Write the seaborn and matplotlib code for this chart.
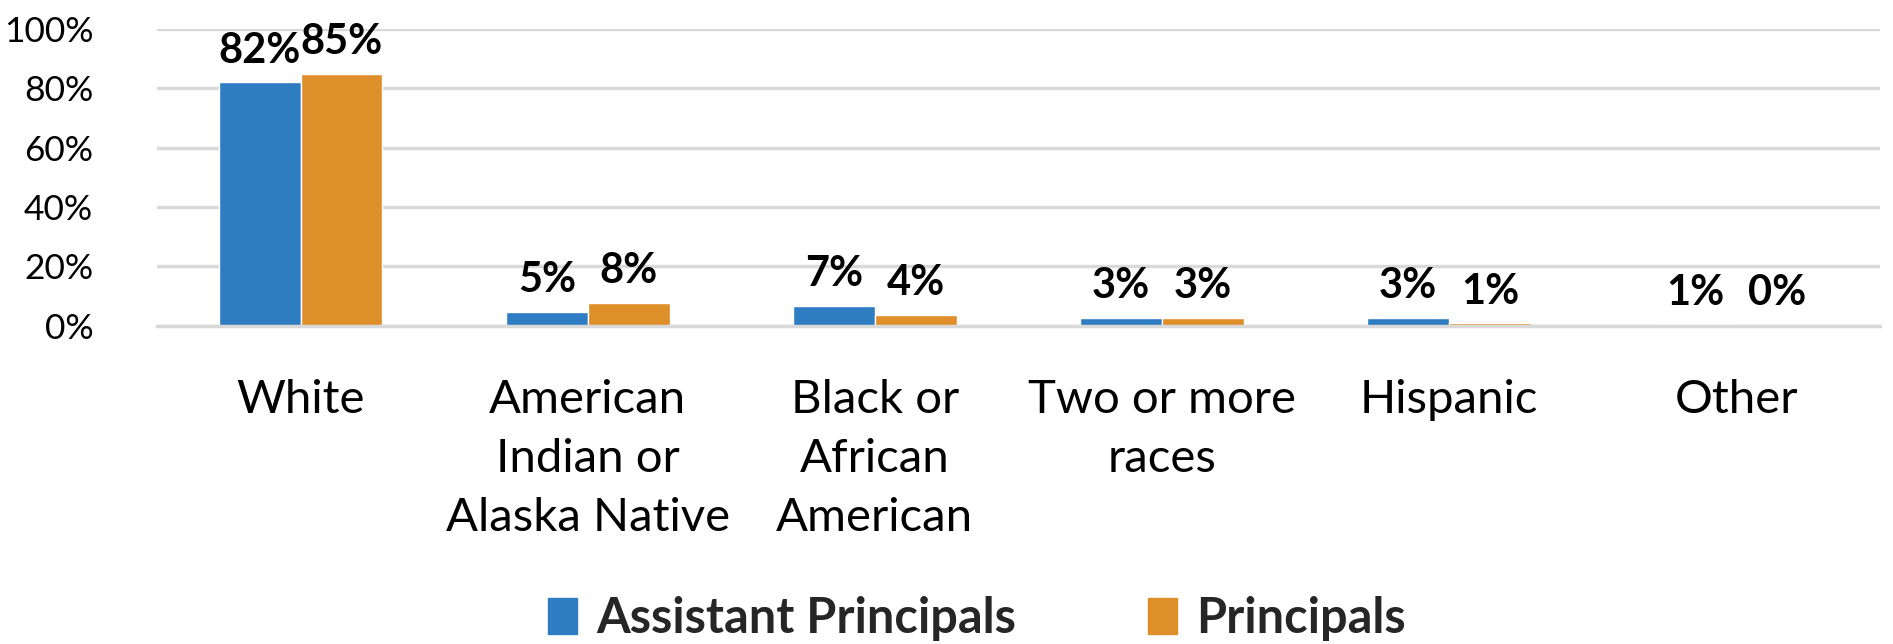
import matplotlib
matplotlib.use("Agg")
from matplotlib import pyplot as plt
import matplotlib.ticker as mticker
import pandas as pd
import seaborn as sns

categories = ["White", "American\nIndian or\nAlaska Native", "Black or\nAfrican\nAmerican",
              "Two or more\nraces", "Hispanic", "Other"]
series = ["Assistant Principals", "Principals"]
assistant_vals = [0.82, 0.047, 0.068, 0.028, 0.027, 0.006]
principal_vals = [0.85, 0.078, 0.038, 0.027, 0.008, 0.003]
colors = ["#2E7CC1", "#DF8F2A"]
y_ticks = [0, 0.2, 0.4, 0.6, 0.8, 1.0]

df = pd.DataFrame({
    "category": categories * 2,
    "group": [series[0]] * len(categories) + [series[1]] * len(categories),
    "value": assistant_vals + principal_vals,
})

sns.set_theme(style="white")
plt.rcParams['font.family'] = ['Lato', 'DejaVu Sans']

fig = plt.figure(figsize=(18.93, 6.44), dpi=100)
ax = fig.add_axes([0.083, 0.494, 0.91, 0.461])

sns.barplot(data=df, x="category", y="value", hue="group", hue_order=series,
            palette=colors, width=0.57, gap=0, saturation=1, ax=ax, legend=False)

# data labels
for cont, vals in zip(ax.containers, [assistant_vals, principal_vals]):
    ax.bar_label(cont, labels=[f"{v:.0%}" for v in vals], padding=9,
                 fontsize=30, fontweight="bold", color="black")

ax.set_ylim(0, 1.0)
ax.set_xlim(-0.5, len(categories) - 0.5)
ax.set_yticks(y_ticks)
ax.yaxis.set_major_formatter(mticker.PercentFormatter(1.0, decimals=0))
ax.grid(axis="y", color="#d9d9d9", linewidth=2.5)
ax.set_axisbelow(True)
for s in ["left", "right", "top"]:
    ax.spines[s].set_visible(False)
ax.spines["bottom"].set_color("#d9d9d9")
ax.spines["bottom"].set_linewidth(2.5)

ax.tick_params(axis="y", length=0, pad=46, labelsize=25.5, labelcolor="black")
ax.tick_params(axis="x", which="major", length=0, pad=38, labelsize=34, labelcolor="black")
ax.set_xticks([i - 0.5 for i in range(len(categories) + 1)], minor=True)
ax.tick_params(axis="x", which="minor", direction="in", length=14, width=2, color="#d9d9d9")
for lab in ax.get_xticklabels():
    lab.set_linespacing(1.5)
ax.set_xlabel("")
ax.set_ylabel("")

handles = [plt.Rectangle((0, 0), 1, 1, color=c) for c in colors]
fig.legend(handles, series, loc="center", bbox_to_anchor=(0.516, 0.04), ncol=2,
           frameon=False, handlelength=0.6, handleheight=0.75, handletextpad=0.4,
           columnspacing=2.7, prop={"size": 35, "weight": "bold"})

fig.savefig("out.png", dpi=100, facecolor="w")
